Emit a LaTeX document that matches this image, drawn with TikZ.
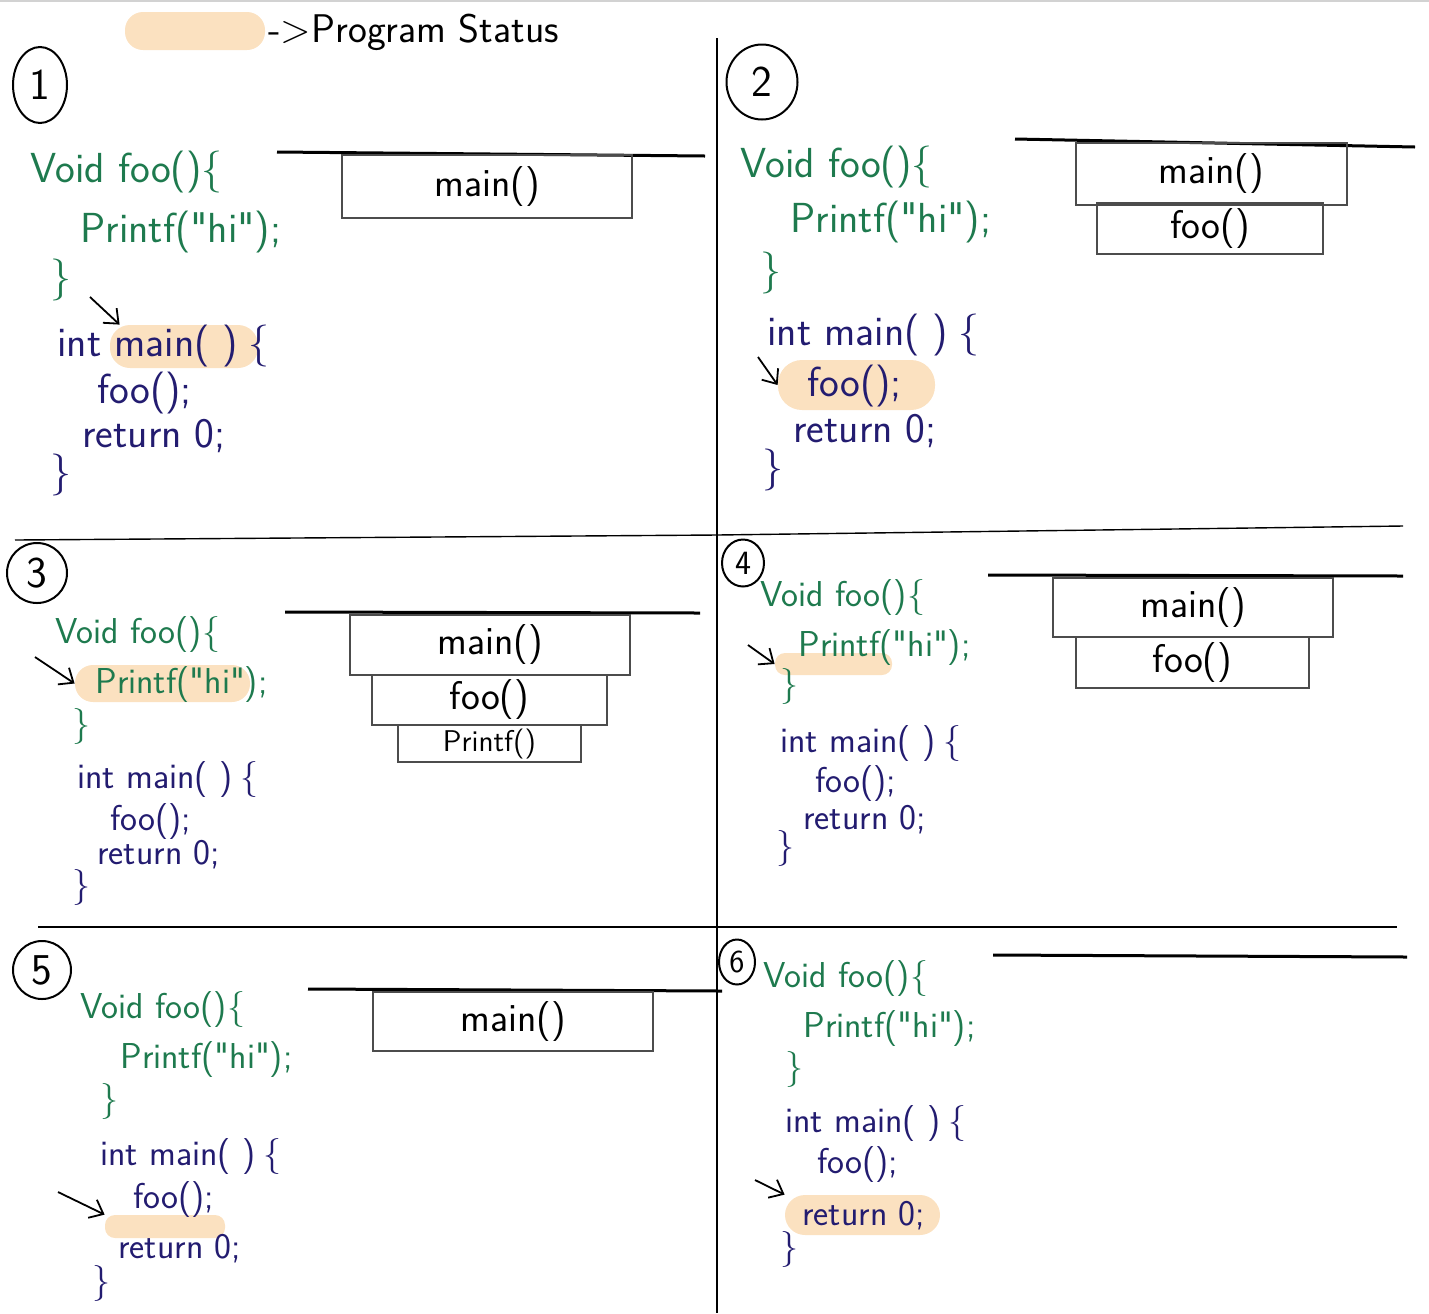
\documentclass[tikz,border=0pt]{standalone}
\usetikzlibrary{arrows.meta,shapes.geometric}
\definecolor{inkgreen}{HTML}{1E7A4E}
\definecolor{inknavy}{HTML}{231C70}
\definecolor{peach}{HTML}{FBE1C0}
\newcommand\hiq{\textquotedbl hi\textquotedbl}
\tikzset{
  foocode/.style={anchor=base west,inner sep=0pt,text=inkgreen,font=\sffamily\fontsize{#1}{#1}\selectfont},
  foocode/.default=18,
  maincode/.style={anchor=base west,inner sep=0pt,text=inknavy,font=\sffamily\fontsize{#1}{#1}\selectfont},
  maincode/.default=18,
  hlight/.style={fill=peach,rounded corners=8pt,inner sep=0pt},
  frame/.style={draw=black!70,line width=0.6pt,inner sep=0pt,font=\sffamily\fontsize{#1}{#1}\selectfont},
  frame/.default=20,
  stackbase/.style={line width=1.5pt},
  ring/.style={draw,ellipse,line width=1pt,inner sep=0pt,font=\sffamily\fontsize{#1}{#1}\selectfont},
  ring/.default=22,
  pointer/.style={-{Straight Barb[length=6pt,width=10pt]},line width=0.9pt},
  divider/.style={line width=0.7pt},
}
\begin{document}
\begin{tikzpicture}[x=0.5pt,y=-0.5pt]
  \useasboundingbox (0,0) rectangle (1429,1313);
  \draw[gray!35,line width=1pt] (0,1)--(1429,1);
  \node[hlight,minimum width=70pt,minimum height=19pt,rounded corners=9pt] (key) at (195,31) {};
  \node[anchor=base west,inner sep=0pt,font=\sffamily\fontsize{20}{20}\selectfont] (keytext) at (268,42) {->Program Status};
  \draw[divider] (717,38)--(717,1313);
  \draw[divider] (15,540)--(717,535)--(1403,526);
  \draw[divider] (38,927)--(1397,927);

  \node[ring,minimum width=27pt,minimum height=38pt] (n1) at (40,85) {1};
  \node[hlight,minimum width=74pt,minimum height=21.5pt,rounded corners=10pt] (hl1) at (184,346.5) {};
  \node[foocode=21] (v1) at (30,182) {Void foo()\{};
  \node[foocode=21] (p1) at (80,242) {Printf(\hiq);};
  \node[foocode=21] (c1) at (50,290) {\}};
  \node[maincode=21] (m1) at (57,356) {int main( )\hspace{5pt}\{};
  \node[maincode=21] (f1) at (97,403) {foo();};
  \node[maincode=21] (r1) at (82,447) {return 0;};
  \node[maincode=21] (e1) at (50,485) {\}};
  \coordinate (pt1) at (90,297);
  \draw[pointer] (pt1) -- ([xshift=5pt]hl1.north west);
  \draw[stackbase] (277,152)--(705,156);
  \node[frame,minimum width=145pt,minimum height=31.5pt] (s1main) at (487,186.5) {main()};

  \node[ring,minimum width=35.5pt,minimum height=37.5pt] (n2) at (762,82) {2};
  \node[hlight,minimum width=78.5pt,minimum height=25pt,rounded corners=12pt] (hl2) at (856.5,385) {};
  \node[foocode=21] (v2) at (740,177) {Void foo()\{};
  \node[foocode=21] (p2) at (790,232) {Printf(\hiq);};
  \node[foocode=21] (c2) at (760,283) {\}};
  \node[maincode=21] (m2) at (767,345) {int main( )\hspace{5pt}\{};
  \node[maincode=21] (f2) at (807,396) {foo();};
  \node[maincode=21] (r2) at (793,442) {return 0;};
  \node[maincode=21] (e2) at (762,480) {\}};
  \coordinate (pt2) at (758,357);
  \draw[pointer] (pt2) -- (hl2.west);
  \draw[stackbase] (1015,139)--(1415,147);
  \node[frame,minimum width=135.5pt,minimum height=31pt] (s2main) at (1211.5,174) {main()};
  \node[frame,minimum width=113pt,minimum height=25.5pt] (s2foo) at (1210,228.5) {foo()};

  \node[ring,minimum width=30pt,minimum height=30pt] (n3) at (37,573) {3};
  \node[hlight,minimum width=87.5pt,minimum height=18.5pt,rounded corners=9pt] (hl3) at (162.5,683.5) {};
  \node[foocode] (v3) at (55,643) {Void foo()\{};
  \node[foocode] (p3) at (95,693) {Printf(\hiq);};
  \node[foocode] (c3) at (72,735) {\}};
  \node[maincode] (m3) at (77,788) {int main( )\hspace{4pt}\{};
  \node[maincode] (f3) at (110,830) {foo();};
  \node[maincode] (r3) at (97,864) {return 0;};
  \node[maincode] (e3) at (72,896) {\}};
  \coordinate (pt3) at (35,657);
  \draw[pointer] (pt3) -- (hl3.west);
  \draw[stackbase] (285,612)--(700,613);
  \node[frame,minimum width=140pt,minimum height=30pt] (s3main) at (490,645) {main()};
  \node[frame,minimum width=117.5pt,minimum height=25pt] (s3foo) at (489.5,700) {foo()};
  \node[frame=15,minimum width=91.5pt,minimum height=18.5pt] (s3printf) at (489.5,743.5) {Printf()};

  \node[ring=17,minimum width=21pt,minimum height=23.5pt] (n4) at (743,563) {4};
  \node[hlight,minimum width=58.5pt,minimum height=11pt,rounded corners=5pt] (hl4) at (833.5,664) {};
  \node[foocode] (v4) at (760,606) {Void foo()\{};
  \node[foocode] (p4) at (798,656) {Printf(\hiq);};
  \node[foocode] (c4) at (780,695) {\}};
  \node[maincode] (m4) at (780,752) {int main( )\hspace{4pt}\{};
  \node[maincode] (f4) at (815,792) {foo();};
  \node[maincode] (r4) at (803,829) {return 0;};
  \node[maincode] (e4) at (776,857) {\}};
  \coordinate (pt4) at (748,645);
  \draw[pointer] (pt4) -- (hl4.west);
  \draw[stackbase] (988,575)--(1403,576);
  \node[frame,minimum width=140pt,minimum height=29.5pt] (s4main) at (1193,607.5) {main()};
  \node[frame,minimum width=116.5pt,minimum height=25.5pt] (s4foo) at (1192.5,662.5) {foo()};

  \node[ring,minimum width=29pt,minimum height=29pt] (n5) at (42,970) {5};
  \node[hlight,minimum width=60pt,minimum height=11.5pt,rounded corners=5pt] (hl5) at (165,1226.5) {};
  \node[foocode] (v5) at (80,1018) {Void foo()\{};
  \node[foocode] (p5) at (120,1068) {Printf(\hiq);};
  \node[foocode] (c5) at (100,1110) {\}};
  \node[maincode] (m5) at (100,1165) {int main( )\hspace{4pt}\{};
  \node[maincode] (f5) at (133,1208) {foo();};
  \node[maincode] (r5) at (118,1258) {return 0;};
  \node[maincode] (e5) at (92,1292) {\}};
  \coordinate (pt5) at (58,1192);
  \draw[pointer] (pt5) -- (hl5.north west);
  \draw[stackbase] (308,989)--(722,991);
  \node[frame,minimum width=140pt,minimum height=29.5pt] (s5main) at (513,1021.5) {main()};

  \node[ring=16,minimum width=18pt,minimum height=22.5pt] (n6) at (737,962) {6};
  \node[hlight,minimum width=77.5pt,minimum height=20pt,rounded corners=10pt] (hl6) at (862.5,1215) {};
  \node[foocode] (v6) at (763,987) {Void foo()\{};
  \node[foocode] (p6) at (803,1037) {Printf(\hiq);};
  \node[foocode] (c6) at (785,1078) {\}};
  \node[maincode] (m6) at (785,1132) {int main( )\hspace{4pt}\{};
  \node[maincode] (f6) at (817,1173) {foo();};
  \node[maincode] (r6) at (802,1225) {return 0;};
  \node[maincode] (e6) at (780,1258) {\}};
  \coordinate (pt6) at (755,1180);
  \draw[pointer] (pt6) -- (hl6.north west);
  \draw[stackbase] (993,955)--(1407,957);
\end{tikzpicture}
\end{document}
